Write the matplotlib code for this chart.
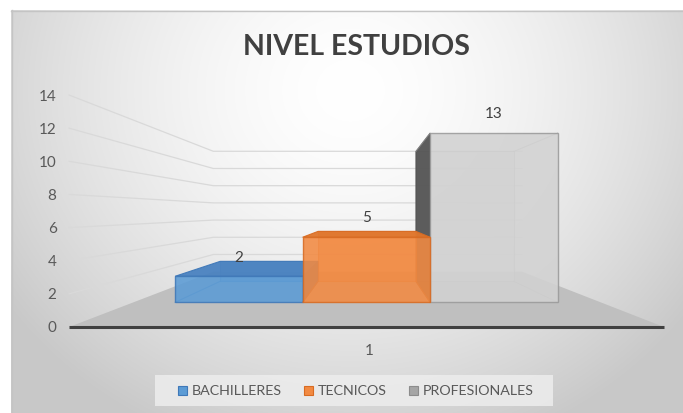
import matplotlib
matplotlib.use("Agg")
import matplotlib.pyplot as plt
import numpy as np
from matplotlib.patches import Polygon, Rectangle

plt.rcParams['font.family'] = ['Lato', 'DejaVu Sans']

# data
series = ['BACHILLERES', 'TECNICOS', 'PROFESIONALES']
values = [2, 5, 13]
category = '1'
yticks = [0, 2, 4, 6, 8, 10, 12, 14]

face = ['#5b9bd5', '#f28a42', '#d2d2d2']
top = ['#4a82c0', '#e0762c', '#bdbdbd']
side = ['#3f6fa3', '#c96520', '#555555']
edge = ['#3f78b8', '#d86b22', '#9a9a9a']

# fake 3d: data coords live on the front plane, r scales toward vanishing point
W, H = 683, 413
px = 16.57          # pixels per unit on the front plane
vx, vy = 369, 327   # pixel of X=0, v=0
Y0 = (327 - 212) / px   # height of vanishing point
r_bf, r_bb, r_wall = 0.785, 0.603, 0.519
xl, xr = -18.1, 17.8    # floor extent
bar_w = 9.8
bar_x0 = -14.9


def proj(X, v, r):
    return (r * X, Y0 + r * (v - Y0))


fig = plt.figure(figsize=(W / 100, H / 100), dpi=100)

# background gradient
bg = fig.add_axes([0, 0, 1, 1])
yy, xx = np.mgrid[0:H, 0:W]
d = np.sqrt(((xx - 350) / 420.0) ** 2 + ((yy - 90) / 380.0) ** 2)
g = 255 - 55 * np.clip(d, 0, 1) ** 1.6
img = np.dstack([g, g, g]) / 255.0
img[:10, :] = 1.0
img[:, :11] = 1.0
bg.imshow(img, extent=[0, W, H, 0], aspect='auto', interpolation='bilinear')
bg.plot([11, W], [10.5, 10.5], color='#c4c4c4', lw=1)
bg.plot([11.5, 11.5], [10, H], color='#c4c4c4', lw=1)
bg.set_xlim(0, W)
bg.set_ylim(H, 0)
bg.axis('off')

ax = fig.add_axes([0, 0, 1, 1])
ax.patch.set_alpha(0)
ax.set_xlim(-vx / px, (W - vx) / px)
ax.set_ylim((vy - H) / px, vy / px)
for s in ['top', 'right', 'bottom']:
    ax.spines[s].set_visible(False)
ax.spines['left'].set_position(('data', xl))
ax.spines['left'].set_color('none')
ax.set_xticks([])
ax.set_yticks(yticks)
ax.tick_params(axis='y', length=0, pad=9, labelsize=11, labelcolor='#595959')

# gridlines: back wall + left wall
for t in yticks[1:]:
    a = proj(xl, t, 1.0)
    b = proj(xl, t, r_wall)
    c = proj(xr, t, r_wall)
    ax.plot([a[0], b[0], c[0]], [a[1], b[1], c[1]], color='#d9d9d9', lw=0.9, zorder=1)

# floor
floor = [proj(xl, 0, 1.0), proj(xr, 0, 1.0), proj(xr, 0, r_wall), proj(xl, 0, r_wall)]
ax.add_patch(Polygon(floor, closed=True, fc='#bfbfbf', ec='none', zorder=2))
ax.plot([floor[0][0], floor[1][0]], [0, 0], color='#404040', lw=2.2, zorder=3,
        solid_capstyle='butt')


def quad(pts, fc, ec, alpha, z, lw=0.8):
    ax.add_patch(Polygon(pts, closed=True, fc=fc, ec=ec, alpha=alpha, lw=lw, zorder=z))


draw_order = [2, 0, 1]
for k, i in enumerate(draw_order):
    x0 = bar_x0 + i * bar_w
    x1 = x0 + bar_w
    h = values[i]
    z = 5 + k
    # back face
    quad([proj(x0, 0, r_bb), proj(x1, 0, r_bb), proj(x1, h, r_bb), proj(x0, h, r_bb)],
         face[i], edge[i], 0.5, z)
    # bottom diagonals
    for xe in (x0, x1):
        p, q = proj(xe, 0, r_bf), proj(xe, 0, r_bb)
        ax.plot([p[0], q[0]], [p[1], q[1]], color=edge[i], lw=0.8, alpha=0.6, zorder=z)
    # side faces
    if x0 > 0:
        quad([proj(x0, 0, r_bf), proj(x0, 0, r_bb), proj(x0, h, r_bb), proj(x0, h, r_bf)],
             side[i], side[i], 0.95, z)
    if x1 < 0:
        quad([proj(x1, 0, r_bf), proj(x1, 0, r_bb), proj(x1, h, r_bb), proj(x1, h, r_bf)],
             side[i], side[i], 0.9, z)
    # top face
    if h < Y0:
        quad([proj(x0, h, r_bf), proj(x1, h, r_bf), proj(x1, h, r_bb), proj(x0, h, r_bb)],
             top[i], edge[i], 0.95, z)
    else:
        for xe in (x0, x1):
            p, q = proj(xe, h, r_bf), proj(xe, h, r_bb)
            ax.plot([p[0], q[0]], [p[1], q[1]], color=edge[i], lw=0.8, alpha=0.6, zorder=z)
    # front face
    quad([proj(x0, 0, r_bf), proj(x1, 0, r_bf), proj(x1, h, r_bf), proj(x0, h, r_bf)],
         face[i], edge[i], 0.88, z, lw=1.0)
    # data label
    lx, ly = proj((x0 + x1) / 2, h, r_bf)
    ax.annotate(str(h), (lx, ly), xytext=(0, 13.5), textcoords='offset points',
                ha='center', va='center', fontsize=11, color='#404040', zorder=20)

# category label
ax.annotate(category, (0, 0), xytext=(0, -17), textcoords='offset points',
            ha='center', va='center', fontsize=11, color='#595959')

# title
fig.text(356 / W, 1 - 47 / H, 'NIVEL ESTUDIOS', ha='center', va='center',
         fontsize=20.5, fontweight='bold', color='#404040')

# legend
bg.add_patch(Rectangle((155, 375), 398, 31, fc='#ededed', ec='none', alpha=0.85))
leg_x = [178, 304, 409]
for i, name in enumerate(series):
    bg.add_patch(Rectangle((leg_x[i], 386), 9, 9, fc=face[i] if i < 2 else '#a5a5a5',
                           ec=edge[i] if i < 2 else '#8c8c8c', lw=0.8))
    bg.text(leg_x[i] + 14, 391, name, ha='left', va='center', fontsize=10.3,
            color='#595959')

fig.savefig('out.png', dpi=100)
